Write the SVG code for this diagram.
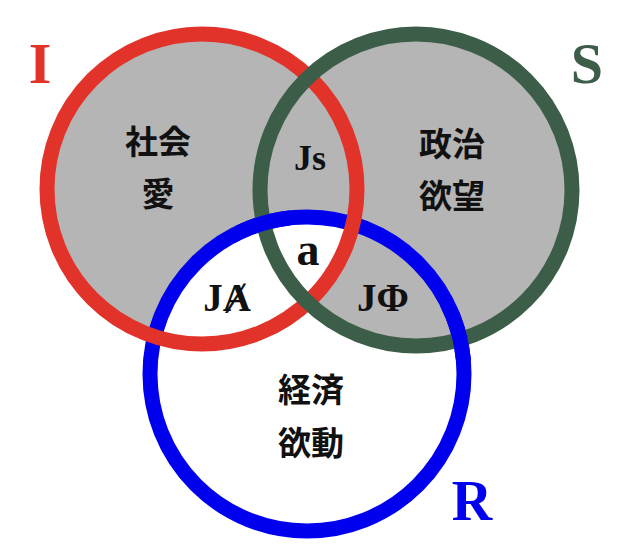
<svg xmlns="http://www.w3.org/2000/svg" width="639" height="550" viewBox="0 0 639 550">
<style>
.ring{fill:none;stroke-width:15}
.cjk{font-family:"Noto Sans CJK JP","Noto Sans CJK SC",sans-serif;font-weight:bold;font-size:33px;text-anchor:middle;fill:#111}
.ser{font-family:"Liberation Serif","DejaVu Serif",serif;font-weight:bold;text-anchor:middle;fill:#111}
.big{font-family:"Liberation Serif","DejaVu Serif",serif;font-weight:bold;text-anchor:middle;font-size:58px}
</style>
<defs>
<clipPath id="inBlue"><circle cx="307" cy="374" r="157"/></clipPath>
<clipPath id="blueOver"><rect x="235" y="205" width="55" height="55"/><rect x="435" y="305" width="55" height="55"/></clipPath>
</defs>
<rect width="639" height="550" fill="#fff"/>
<g id="fills">
<circle cx="202" cy="189" r="155" fill="#b5b5b5"/>
<circle cx="416" cy="190" r="156" fill="#b5b5b5"/>
<circle cx="307" cy="374" r="157" fill="#fff"/>
<g clip-path="url(#inBlue)">
<circle cx="416" cy="190" r="156" fill="#b5b5b5"/>
<circle cx="202" cy="189" r="155" fill="#fff"/>
</g>
</g>
<g id="connectors">
<circle id="ring-R" class="ring" cx="307" cy="374" r="157" stroke="#0000ee"/>
<circle id="ring-I" class="ring" cx="202" cy="189" r="155" stroke="#e2332a"/>
<circle id="ring-S" class="ring" cx="416" cy="190" r="156" stroke="#3c5d48"/>
<circle class="ring" cx="307" cy="374" r="157" stroke="#0000ee" clip-path="url(#blueOver)"/>
</g>
<g id="node-I"><text class="big" x="40" y="83" fill="#e2332a">I</text></g>
<g id="node-S"><text class="big" x="587" y="83" fill="#3c5d48">S</text></g>
<g id="node-R"><text class="big" x="472" y="520" fill="#0000ee" style="font-size:56px">R</text></g>
<g id="node-social"><text class="cjk" x="158" y="154">社会</text><text class="cjk" x="158" y="206">愛</text></g>
<g id="node-political"><text class="cjk" x="452" y="156">政治</text><text class="cjk" x="452" y="208">欲望</text></g>
<g id="node-economic"><text class="cjk" x="311" y="402">経済</text><text class="cjk" x="311" y="455">欲動</text></g>
<g id="node-Js"><text class="ser" x="310" y="170" style="font-size:36px">Js</text></g>
<g id="node-a"><text class="ser" x="308" y="265" style="font-size:46px">a</text></g>
<g id="node-JA"><text class="ser" x="227" y="311" style="font-size:39px">JȺ</text></g>
<g id="node-JPhi"><text class="ser" x="383" y="311" style="font-size:39px">JΦ</text></g>
</svg>
